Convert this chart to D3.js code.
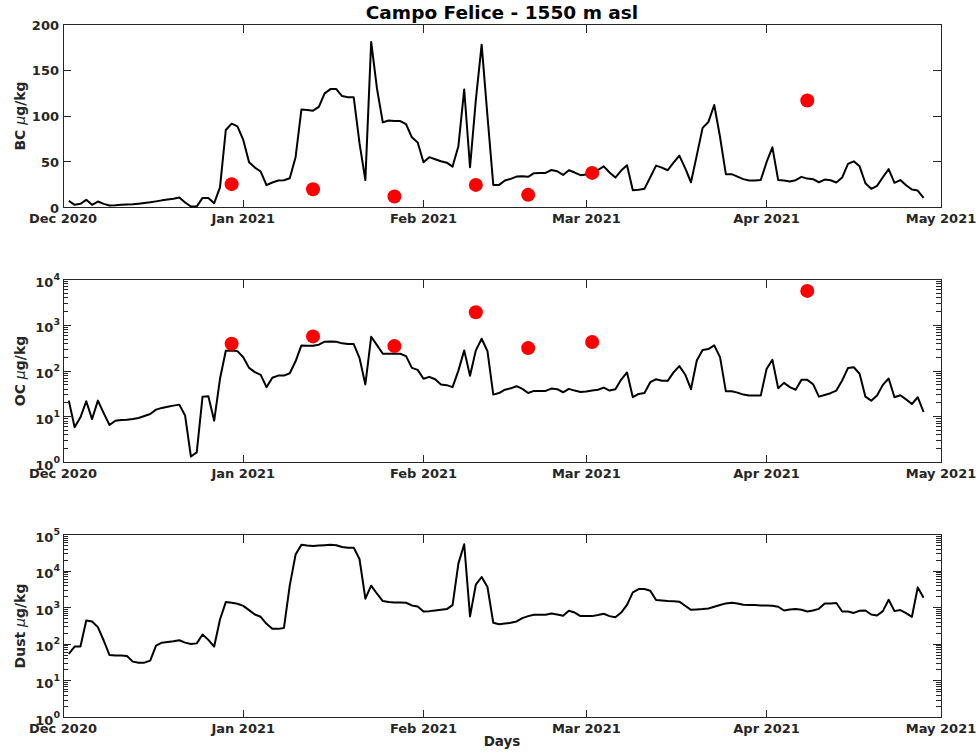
<!DOCTYPE html>
<html>
<head>
<meta charset="utf-8">
<script src="https://cdn.jsdelivr.net/npm/d3@7"></script>
<style>
	body { margin: 0; background: #fff; }
	text { font-family: "DejaVu Sans", sans-serif; font-weight: bold; fill: #262626; }
</style>
</head>
<body>
<svg id="chart" width="979" height="754"></svg>
<script>
// daily series, one value per day starting at firstDay
var firstDay = "2020-12-02";

var bcValues = [
	7.3, 2.9, 4, 8.4, 2.9, 6.5, 4, 2.2, 2.5, 3, 3.3, 3.6, 4.2, 4.9, 5.7, 6.7, 7.8, 8.7, 9.6, 10.9,
	5.5, 1.1, 1.1, 10.5, 10.5, 4.7, 22, 84.7, 91.6, 88.7,
	73.8, 49.5, 43.6, 39.3, 24.4, 27.3, 29.5, 29.8, 32, 55, 107, 106.5, 105.8, 110, 124.7, 129.4,
	129.4, 121.8, 120.4, 120.4, 70, 30, 181, 130, 93, 95, 94.5, 94.5, 91, 76.7, 71,
	49.5, 55, 52.7, 50.5, 49, 44.7, 67, 129, 44, 117.5, 178, 100, 24.7, 24.7, 29.5, 31.3, 33.8,
	34.2, 33.5, 37.5, 37.8, 37.8, 41, 39.6, 35.6, 40.7, 38.2, 35.3,
	36, 39, 41, 45, 38.2, 32.7, 40.4, 46.2, 18.9, 19.3, 20.4, 33, 45.8, 43.6, 40.7, 49, 56.7, 43,
	27.6, 57, 87, 93.5, 112, 77, 36.4, 36.4, 33.8, 31, 29.5, 29.5, 30,
	49.5, 65.8, 30, 29.5, 28.4, 29.8, 33.5, 31.6, 31, 27.6, 30.5, 29.8, 27.3, 32.7, 47.6, 50.5,
	45, 26.5, 20.4, 23.6, 33, 42, 27, 30, 24.4, 19.6, 18.5, 10.5
];

var ocValues = [
	22.5, 5.9, 9.7, 21.8, 8.9, 22.5, 12, 6.6, 8.2, 8.5, 8.6, 8.9, 9.4, 10.4, 11.5, 14.3, 15.6, 16.6,
	17.5, 18.4, 10.6, 1.35, 1.66, 27.5, 28, 8.2, 67.5, 276, 282, 272,
	200, 117, 94.5, 82.5, 44.3, 71, 79.5, 79.5, 89.5, 163, 363, 357, 357, 375, 437, 444, 437, 402,
	388, 388, 191, 50.7, 560, 368, 238, 238, 238, 238, 211, 117, 106,
	67.5, 74.6, 66, 50.7, 49, 44.3, 102, 282, 78.4, 282, 508, 272, 30.5, 33, 39, 41.8, 46.5, 40.6,
	33, 36.7, 36.7, 36.7, 41.2, 40, 34.3, 40.6, 37.3, 34.8,
	35.5, 37.3, 39, 43.4, 37.3, 40, 65, 93, 26.7, 31.6, 33, 57, 66, 61, 61, 93, 128, 84, 40, 170,
	287, 302, 363, 201, 36, 36, 33.7, 30.5, 29, 29, 29,
	111, 176, 41.8, 55, 44.3, 39, 64, 64, 51.5, 27.5, 30, 32.7, 37.3, 62, 116, 121, 87, 27.5, 22.5,
	29, 49.7, 68.5, 26.7, 29.5, 24, 19, 26.7, 12.7
];

var dustValues = [
	54.5, 86.7, 86.7, 448, 420, 294, 127, 51, 49.5, 49.5, 48, 33.6, 31.5, 31.5, 35.8, 92, 111, 116,
	121, 129, 111, 102, 106, 185, 132, 86.7, 477, 1425, 1365, 1280,
	1120, 860, 653, 564, 363, 264, 264, 280, 4080, 28300, 52100, 49700, 48700, 49700, 50900, 52100,
	50900, 45600, 43700, 43700, 21100, 1760, 3990, 2410, 1520, 1425, 1395, 1395, 1365, 1155, 1080,
	790, 806, 840, 875, 915, 1180, 16000, 54300, 577, 4250, 6900, 3670, 386, 355, 370, 386, 420,
	519, 589, 640, 640, 640, 697, 653, 600, 824, 737, 589,
	589, 589, 628, 685, 589, 550, 737, 1200, 2620, 3240, 3240, 2910, 1615, 1580, 1520, 1490, 1460,
	1130, 875, 895, 915, 955, 1060, 1180, 1310, 1365, 1310, 1200, 1180, 1180, 1155,
	1155, 1130, 1060, 840, 895, 915, 875, 790, 840, 930, 1310, 1310, 1340, 790, 790, 720, 824, 840,
	653, 614, 806, 1650, 806, 860, 710, 564, 3590, 1870
];

// snow samples (red dots)
var sampleDays = ["2020-12-30", "2021-01-13", "2021-01-27", "2021-02-10", "2021-02-19", "2021-03-02", "2021-04-08"];
var bcSamples = [25.5, 20, 12, 24.7, 13.8, 37.8, 117];
var ocSamples = [394, 571, 350, 1920, 317, 429, 5640];

var monthTicks = ["2020-12-01", "2021-01-01", "2021-02-01", "2021-03-01", "2021-04-01", "2021-05-01"];
var bcTicks = [0, 50, 100, 150, 200];
var ocExponents = [0, 1, 2, 3, 4];
var dustExponents = [0, 1, 2, 3, 4, 5];

var svg = d3.select("#chart");
var parseDay = d3.utcParse("%Y-%m-%d");
var axisColor = "#262626";
var plotLeft = 63, plotRight = 941, plotHeight = 183;
var majorLen = 8, minorLen = 5;

var days = bcValues.map(function(v, i) {
	return d3.utcDay.offset(parseDay(firstDay), i);
});
var months = monthTicks.map(parseDay);
var samples = sampleDays.map(parseDay);

var x = d3.scaleUtc()
	.domain([months[0], months[months.length - 1]])
	.range([plotLeft, plotRight]);

svg.append("rect")
	.attr("width", 979)
	.attr("height", 754)
	.style("fill", "white");

svg.append("text")
	.attr("x", (plotLeft + plotRight) / 2)
	.attr("y", 19)
	.attr("text-anchor", "middle")
	.style("font-size", "18.5px")
	.style("fill", "black")
	.text("Campo Felice - 1550 m asl");

drawPanel({ top: 24.5, label: "BC", values: bcValues, dots: bcSamples, ticks: bcTicks });
drawPanel({ top: 279.5, label: "OC", values: ocValues, dots: ocSamples, exponents: ocExponents });
drawPanel({ top: 534.5, label: "Dust", values: dustValues, exponents: dustExponents });

svg.append("text")
	.attr("x", (plotLeft + plotRight) / 2)
	.attr("y", 746)
	.attr("text-anchor", "middle")
	.style("font-size", "13.5px")
	.text("Days");

function drawPanel(cfg) {
	var top = cfg.top, bottom = cfg.top + plotHeight;
	var isLog = !!cfg.exponents;
	var y;

	if (isLog) {
		var ex = cfg.exponents;
		y = d3.scaleLog()
			.domain([Math.pow(10, ex[0]), Math.pow(10, ex[ex.length - 1])])
			.range([bottom, top]);
	}
	else {
		y = d3.scaleLinear()
			.domain([cfg.ticks[0], cfg.ticks[cfg.ticks.length - 1]])
			.range([bottom, top]);
	}

	var g = svg.append("g");
	var axisG = g.append("g")
		.style("stroke", axisColor)
		.style("stroke-width", 1)
		.style("shape-rendering", "crispEdges");

	// month ticks, top and bottom, pointing inward
	months.forEach(function(m, i) {
		var px = x(m);
		if (i > 0 && i < months.length - 1) {
			axisG.append("line").attr("x1", px).attr("x2", px).attr("y1", bottom).attr("y2", bottom - majorLen);
			axisG.append("line").attr("x1", px).attr("x2", px).attr("y1", top).attr("y2", top + majorLen);
		}
		g.append("text")
			.attr("x", px)
			.attr("y", bottom + 15)
			.attr("text-anchor", "middle")
			.style("font-size", "13px")
			.text(d3.utcFormat("%b %Y")(m));
	});

	// y ticks
	var majors = isLog ? cfg.exponents.map(function(e) { return Math.pow(10, e); }) : cfg.ticks;
	majors.forEach(function(v, i) {
		var py = y(v);
		if (i > 0 && i < majors.length - 1) {
			axisG.append("line").attr("x1", plotLeft).attr("x2", plotLeft + majorLen).attr("y1", py).attr("y2", py);
			axisG.append("line").attr("x1", plotRight).attr("x2", plotRight - majorLen).attr("y1", py).attr("y2", py);
		}
		if (isLog) {
			var t = g.append("text")
				.attr("x", plotLeft - 3)
				.attr("y", py + 7)
				.attr("text-anchor", "end")
				.style("font-size", "13px");
			t.append("tspan").text("10");
			t.append("tspan")
				.attr("dy", -7)
				.style("font-size", "9.5px")
				.text(cfg.exponents[i]);
		}
		else {
			g.append("text")
				.attr("x", plotLeft - 4)
				.attr("y", py + 5)
				.attr("text-anchor", "end")
				.style("font-size", "13px")
				.text(v);
		}
	});

	if (isLog) {
		// minor ticks 2..9 in each decade
		cfg.exponents.slice(0, -1).forEach(function(e) {
			for (var k = 2; k <= 9; k++) {
				var py = y(k * Math.pow(10, e));
				axisG.append("line").attr("x1", plotLeft).attr("x2", plotLeft + minorLen).attr("y1", py).attr("y2", py);
				axisG.append("line").attr("x1", plotRight).attr("x2", plotRight - minorLen).attr("y1", py).attr("y2", py);
			}
		});
	}

	// box
	axisG.append("rect")
		.attr("x", plotLeft)
		.attr("y", top)
		.attr("width", plotRight - plotLeft)
		.attr("height", plotHeight)
		.style("fill", "none");

	// daily line
	var line = d3.line()
		.x(function(d, i) { return x(days[i]); })
		.y(function(d) { return y(d); });

	g.append("path")
		.datum(cfg.values)
		.attr("d", line)
		.style("fill", "none")
		.style("stroke", "black")
		.style("stroke-width", 2)
		.style("stroke-linejoin", "round");

	// sample dots
	if (cfg.dots) {
		g.selectAll("circle")
			.data(cfg.dots)
			.enter()
			.append("circle")
			.attr("cx", function(d, i) { return x(samples[i]); })
			.attr("cy", function(d) { return y(d); })
			.attr("r", 7)
			.style("fill", "#ff0000");
	}

	// y label
	var lab = g.append("text")
		.attr("transform", "translate(25," + (top + plotHeight / 2) + ") rotate(-90)")
		.attr("text-anchor", "middle")
		.style("font-size", "14px");
	lab.append("tspan").text(cfg.label + " ");
	lab.append("tspan")
		.style("font-style", "italic")
		.style("font-weight", "normal")
		.text("\u03bc");
	lab.append("tspan").text("g/kg");
}
</script>
</body>
</html>
